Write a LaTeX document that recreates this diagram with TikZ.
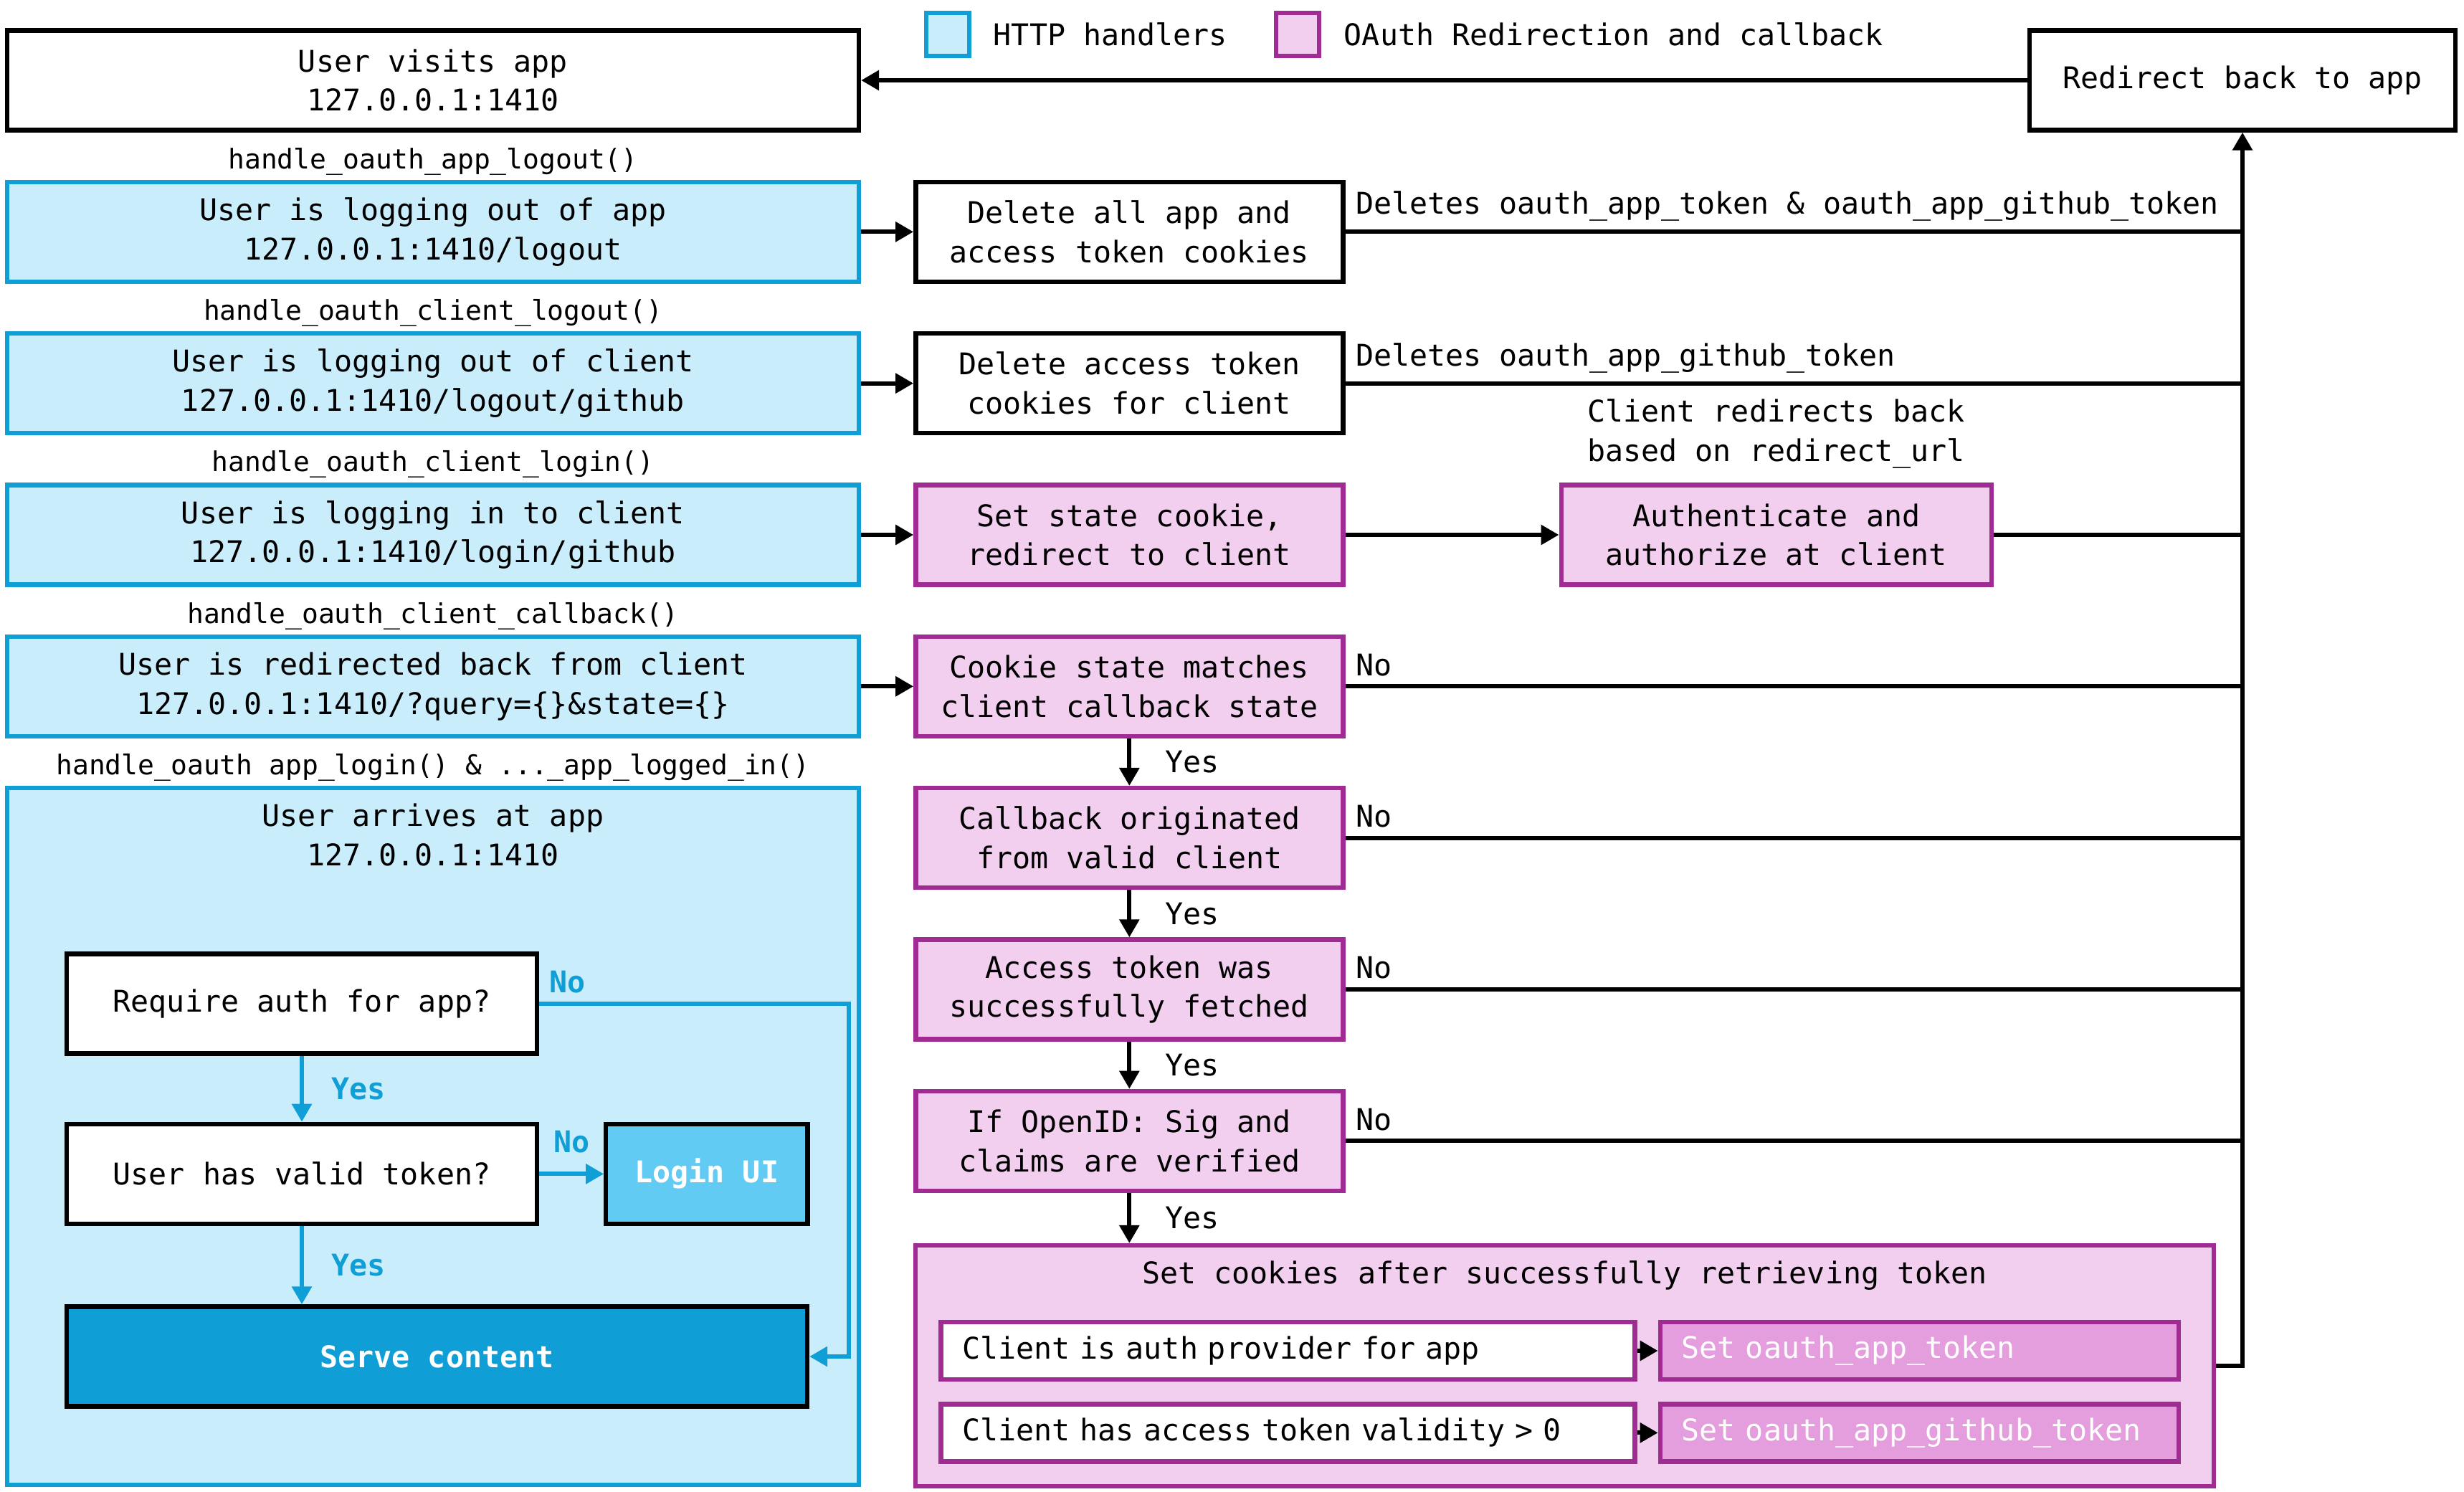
\documentclass[tikz,border=0pt]{standalone}
\usepackage{fontspec}
\setmainfont{DejaVu Sans Mono}
\usepackage{tikz}
\usetikzlibrary{arrows.meta, positioning}

\definecolor{httpblue}{HTML}{0F9ED5}
\definecolor{httplight}{HTML}{CAEDFB}
\definecolor{loginblue}{HTML}{61CBF3}
\definecolor{oauthpurple}{HTML}{A02B93}
\definecolor{oauthlight}{HTML}{F2CEEF}
\definecolor{oauthmid}{HTML}{E49EDD}
\newcommand{\diagfont}{\fontsize{11.85}{15.6}\selectfont}
\newcommand{\handlerfont}{\fontsize{10.8}{14}\selectfont}

\begin{document}
\begin{tikzpicture}[auto, node distance=0.66cm, >={Triangle[length=2.5mm, width=2.7mm]}, line width=1.7pt, every node/.style={font=\diagfont}]
        \tikzstyle{box} = [draw, rectangle, line width=1.8pt, minimum height=1.39cm, align=center, fill=white]
        \tikzstyle{wide} = [box, minimum width=11.88cm]
        \tikzstyle{mid} = [box, minimum width=5.96cm]
        \tikzstyle{http} = [draw=httpblue, fill=httplight]
        \tikzstyle{oauth} = [draw=oauthpurple, fill=oauthlight]
        \tikzstyle{cond} = [box, draw=oauthpurple, minimum height=0.8cm, inner xsep=0.3cm, align=left]
        \tikzstyle{handler} = [font=\handlerfont]
        \tikzstyle{blueflow} = [->, draw=httpblue]
        \tikzstyle{bluetag} = [text=httpblue, font=\diagfont\bfseries]
        \tikzstyle{whitetag} = [text=white, font=\diagfont\bfseries]

        \useasboundingbox (0,0) rectangle (34.37,-20.80);

        % Legenda
        \node [draw=httpblue, fill=httplight, line width=1.8pt, minimum size=0.6cm] (keyhttp) at (13.22,-0.48) {};
        \node [right=0.16cm of keyhttp] (keyhttptext) {HTTP handlers};
        \node [draw=oauthpurple, fill=oauthlight, line width=1.8pt, minimum size=0.6cm] (keyoauth) at (18.10,-0.48) {};
        \node [right=0.17cm of keyoauth] (keyoauthtext) {OAuth Redirection and callback};

        % Handlere HTTP
        \node [wide] (visit) at (6.04,-1.12) {User visits app\\127.0.0.1:1410};
        \node [wide, http, below=of visit] (applogout) {User is logging out of app\\127.0.0.1:1410/logout};
        \node [wide, http, below=of applogout] (clientlogout) {User is logging out of client\\127.0.0.1:1410/logout/github};
        \node [wide, http, below=of clientlogout] (clientlogin) {User is logging in to client\\127.0.0.1:1410/login/github};
        \node [wide, http, below=of clientlogin] (clientcallback) {User is redirected back from client\\127.0.0.1:1410/?query=\{\}\&state=\{\}};
        \node [wide, http, below=of clientcallback, minimum height=9.715cm] (appbox) {};

        \node [handler, above=-0.08cm of applogout] (hlogout) {handle\_oauth\_app\_logout()};
        \node [handler, above=-0.08cm of clientlogout] (hclientlogout) {handle\_oauth\_client\_logout()};
        \node [handler, above=-0.08cm of clientlogin] (hclientlogin) {handle\_oauth\_client\_login()};
        \node [handler, above=-0.08cm of clientcallback] (hcallback) {handle\_oauth\_client\_callback()};
        \node [handler, above=-0.08cm of appbox] (happ) {handle\_oauth app\_login() \& ...\_app\_logged\_in()};

        % Aplicatia
        \node [below=0.1cm of appbox.north, align=center] (arrive) {User arrives at app\\127.0.0.1:1410};
        \node [box, minimum width=6.56cm] (needauth) at (4.21,-14.00) {Require auth for app?};
        \node [box, minimum width=6.56cm, below=0.92cm of needauth] (hastoken) {User has valid token?};
        \node [box, fill=loginblue, minimum width=2.81cm, right=0.9cm of hastoken, whitetag] (loginui) {Login UI};
        \node [box, fill=httpblue, minimum width=10.33cm, whitetag] (serve) at (6.095,-18.92) {Serve content};
        \coordinate (nobend) at (11.84,-18.92);

        \draw [blueflow] (needauth) -- node[bluetag, right=0.27cm] {Yes} (hastoken);
        \draw [blueflow] (hastoken) -- node[bluetag, right=0.27cm] {Yes} (hastoken.south |- serve.north);
        \draw [blueflow] (hastoken) -- node[bluetag, above=0.15cm] {No} (loginui);
        \draw [blueflow] (needauth.east) -- node[bluetag, pos=0, above right] {No} (needauth.east -| nobend) -- (nobend) -- (serve.east);

        % Redirectare OAuth
        \node [mid, right=0.73cm of applogout] (delall) {Delete all app and\\access token cookies};
        \node [mid, right=0.73cm of clientlogout] (delaccess) {Delete access token\\cookies for client};
        \node [mid, oauth, right=0.73cm of clientlogin] (setstate) {Set state cookie,\\redirect to client};
        \node [mid, oauth, minimum width=6.0cm, right=2.98cm of setstate] (authz) {Authenticate and\\authorize at client};
        \node [above=0.05cm of authz, align=center] (redirectnote) {Client redirects back\\based on redirect\_url};
        \node [mid, oauth, right=0.73cm of clientcallback] (statematch) {Cookie state matches\\client callback state};
        \node [mid, oauth, below=of statematch] (validclient) {Callback originated\\from valid client};
        \node [mid, oauth, below=of validclient] (fetched) {Access token was\\successfully fetched};
        \node [mid, oauth, below=of fetched] (openid) {If OpenID: Sig and\\claims are verified};

        % Cookie-uri
        \node [box, oauth, minimum width=18.11cm, minimum height=3.36cm] (setcookies) at (21.825,-19.05) {};
        \node [below=0.1cm of setcookies.north] (setcookiestitle) {Set cookies after successfully retrieving token};
        \node [cond, text width=9.08cm] (authprovider) at (17.965,-18.84) {Client is auth provider for app};
        \node [cond, fill=oauthmid, text=white, text width=6.63cm, right=0.29cm of authprovider] (setapptoken) {Set oauth\_app\_token};
        \node [cond, text width=9.08cm, below=0.28cm of authprovider] (tokenvalid) {Client has access token validity > 0};
        \node [cond, fill=oauthmid, text=white, text width=6.63cm, right=0.29cm of tokenvalid] (setgithubtoken) {Set oauth\_app\_github\_token};

        \node [box, minimum width=5.94cm] (redirect) at (31.28,-1.12) {Redirect back to app};

        % Sageti
        \draw [->] (applogout) -- (delall);
        \draw [->] (clientlogout) -- (delaccess);
        \draw [->] (clientlogin) -- (setstate);
        \draw [->] (clientcallback) -- (statematch);
        \draw [->] (setstate) -- (authz);
        \draw [->] (statematch) -- node[right=0.35cm] {Yes} (validclient);
        \draw [->] (validclient) -- node[right=0.35cm] {Yes} (fetched);
        \draw [->] (fetched) -- node[right=0.35cm] {Yes} (openid);
        \draw [->] (openid) -- node[right=0.35cm] {Yes} (openid.south |- setcookies.north);
        \draw [->] (authprovider) -- (setapptoken);
        \draw [->] (tokenvalid) -- (setgithubtoken);

        % Inapoi la aplicatie
        \draw [->] (redirect) -- (visit);
        \draw [->] (setcookies.east) -| (redirect.south);
        \draw (delall.east) -- node[pos=0, above right] {Deletes oauth\_app\_token \& oauth\_app\_github\_token} (delall.east -| redirect.south);
        \draw (delaccess.east) -- node[pos=0, above right] {Deletes oauth\_app\_github\_token} (delaccess.east -| redirect.south);
        \draw (authz.east) -- (authz.east -| redirect.south);
        \draw (statematch.east) -- node[pos=0, above right] {No} (statematch.east -| redirect.south);
        \draw (validclient.east) -- node[pos=0, above right] {No} (validclient.east -| redirect.south);
        \draw (fetched.east) -- node[pos=0, above right] {No} (fetched.east -| redirect.south);
        \draw (openid.east) -- node[pos=0, above right] {No} (openid.east -| redirect.south);

    \end{tikzpicture}
\end{document}
